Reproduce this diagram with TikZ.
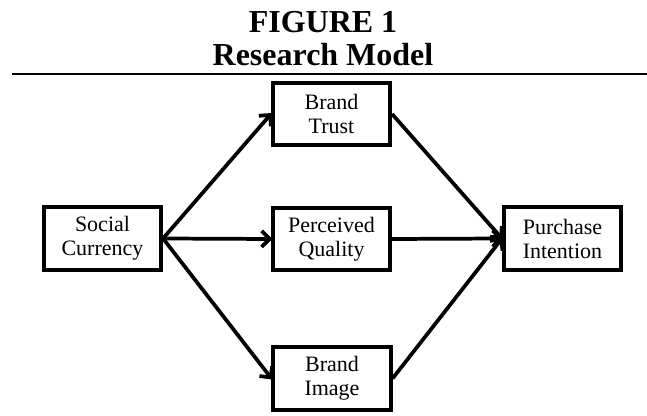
\documentclass[tikz,border=0pt]{standalone}
\usepackage{fontspec}
\setmainfont{Liberation Serif}
\usetikzlibrary{arrows.meta}

\begin{document}
\begin{tikzpicture}[x=0.75pt,y=-0.75pt,
    caja/.style={draw,line width=2.8pt,minimum width=88pt,minimum height=47pt,
      align=center,font=\fontsize{16.5}{18}\selectfont,inner sep=2pt},
    flecha/.style={line width=2.8pt,-{Straight Barb[length=6pt,width=12pt]},shorten >=-1pt},
    titulo/.style={anchor=base,font=\fontsize{24}{26}\selectfont\bfseries}]
            \useasboundingbox (0,0) rectangle (647,416);

            \node[titulo] (fig) at (323,33) {FIGURE 1};
            \node[titulo] (modelo) at (323,66) {Research Model};
            \draw[line width=1.8pt] (12,74) -- (647,74);

            % Cajas del modelo
            \node[caja] (social) at (102.5,238.5) {Social\\Currency};
            \node[caja] (trust) at (331.5,114) {Brand\\Trust};
            \node[caja] (quality) at (331.5,239) {Perceived\\Quality};
            \node[caja] (image) at (332,378.5) {Brand\\Image};
            \node[caja] (purchase) at (562.5,238.5) {Purchase\\Intention};

            \draw[flecha] (social.east) -- (trust.west);
            \draw[flecha] (social.east) -- (quality.west);
            \draw[flecha] (social.east) -- (image.west);

            \draw[flecha] (trust.east) -- (purchase.west);
            \draw[flecha] (quality.east) -- (purchase.west);
            \draw[flecha] (image.east) -- (purchase.west);
\end{tikzpicture}
\end{document}
